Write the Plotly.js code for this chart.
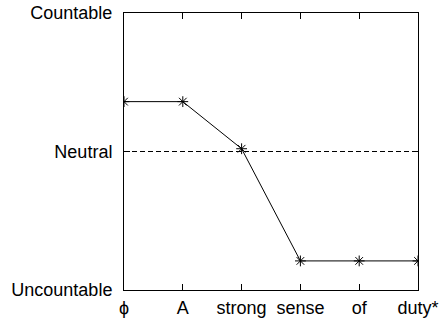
<!DOCTYPE html>
<html>
<head>
<meta charset="utf-8">
<script src="https://cdn.plot.ly/plotly-3.0.1.min.js"></script>
<style>html,body{margin:0;padding:0;background:#fff;}#chart{width:439px;height:322px;}</style>
</head>
<body>
<div id="chart"></div>
<script>
const categories = ["ϕ", "A", "strong", "sense", "of", "duty*"];
const values = [0.68, 0.68, 0.51, 0.105, 0.105, 0.105];
const yTickVals = [0, 0.5, 1];
const yTickText = ["Uncountable", "Neutral", "Countable"];
const neutralLevel = 0.5;

const trace = {
  x: categories.map((c, i) => i),
  y: values,
  mode: "lines+markers",
  line: {color: "#000", width: 1},
  marker: {symbol: "asterisk-open", size: 9, color: "#000", line: {color: "#000", width: 1}},
  showlegend: false,
  hoverinfo: "skip"
};

const layout = {
  width: 439, height: 322,
  margin: {l: 124, r: 21, t: 13, b: 32},
  paper_bgcolor: "#fff", plot_bgcolor: "#fff",
  font: {family: "Liberation Sans, Arial, sans-serif", size: 18, color: "#000"},
  xaxis: {
    range: [0, categories.length - 1],
    tickvals: categories.map((c, i) => i),
    ticktext: categories,
    ticks: "inside", ticklen: 6, tickcolor: "#000", tickwidth: 1,
    showline: true, linecolor: "#000", linewidth: 1, mirror: "ticks",
    showgrid: false, zeroline: false,
    ticklabelstandoff: 1,
    tickfont: {size: 18}
  },
  yaxis: {
    range: [0, 1],
    tickvals: yTickVals,
    ticktext: yTickText,
    ticks: "inside", ticklen: 6, tickcolor: "#000", tickwidth: 1,
    showline: true, linecolor: "#000", linewidth: 1, mirror: "ticks",
    showgrid: false, zeroline: false,
    ticklabelstandoff: 7,
    tickfont: {size: 18}
  },
  shapes: [{
    type: "line", xref: "paper", yref: "y",
    x0: 0, x1: 1, y0: neutralLevel, y1: neutralLevel,
    line: {color: "#000", width: 1, dash: "5px,3px"},
    layer: "below"
  }]
};

Plotly.newPlot("chart", [trace], layout, {displayModeBar: false, staticPlot: true});
</script>
</body>
</html>
